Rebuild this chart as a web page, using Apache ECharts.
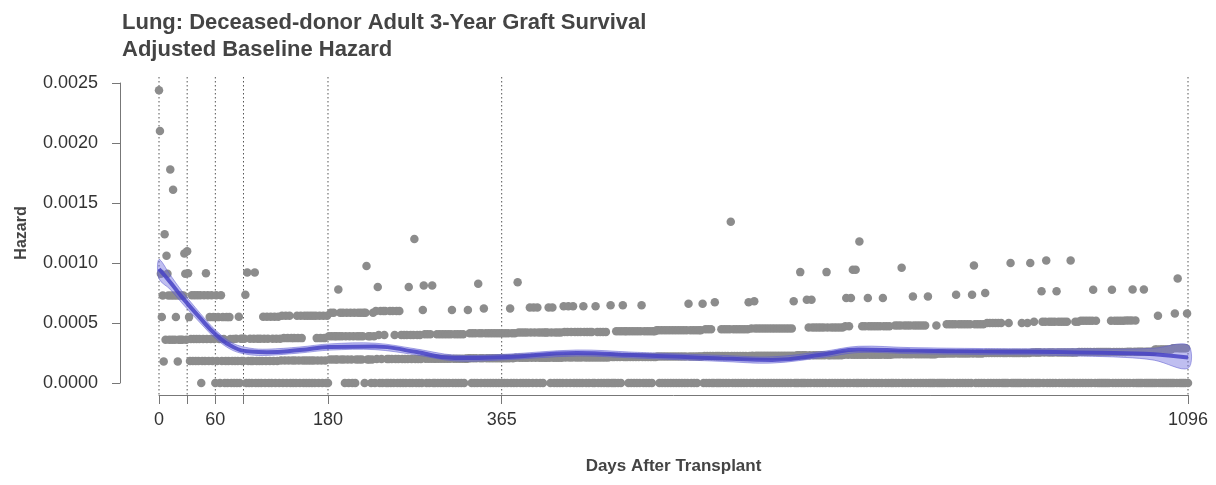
<!DOCTYPE html>
<html>
<head>
<meta charset="utf-8">
<script src="https://cdn.jsdelivr.net/npm/echarts@6.0.0/dist/echarts.min.js"></script>
<style>
  html, body { margin: 0; padding: 0; background: #fff; }
  #main { width: 1216px; height: 485px; }
</style>
</head>
<body>
<div id="main"></div>
<script>
// hazard for the first 30 days, read one by one
const firstMonthHazard = [
  0.00244, 0.00210, 0.00091, 0.00055, 0.00073, 0.00018, 0.00124, 0.00036, 0.00106, 0.00091,
  0.00073, 0.00036, 0.00178, 0.00073, 0.00036, 0.00161, 0.00073, 0.00036, 0.00055, 0.00073,
  0.00018, 0.00036, 0.00073, 0.00036, 0.00073, 0.00036, 0.00073, 0.00108, 0.00091, 0.00036
];

// after day 30 the points sit on rows (0, 1, 2, ... events); row spacing per block of days
const blockStart = [30, 80, 130, 180, 230, 280, 330, 380, 430, 480, 530, 580, 630, 680, 730, 780, 830, 880, 930, 980, 1030, 1060, 1080];
const blockStep = [0.000183, 0.000184, 0.000187, 0.000195, 0.000200, 0.000203, 0.000207, 0.000210, 0.000213, 0.000216, 0.000220, 0.000224,
  0.000227, 0.000231, 0.000236, 0.000240, 0.000245, 0.000250, 0.000255, 0.000259, 0.000260, 0.000280, 0.000290];
// one digit per day = row of that day's point
const blockCounts = [
  '6531241241 2412401241 5241324132 0413204132 0130132012',
  '0120130212 1240510210 1250120120 1320132013 0213021302',
  '1302130213 0210210321 0321031031 0310310321 0321032103',
  '0213213212 1423123102 3102310230 1231231230 3512120132',
  '0314203103 2301013013 0213013021 0210214021 0261021021',
  '0342102102 1401012012 0120120120 1230120120 1201201113',
  '1210210210 4210213021 0210210210 2102102102 1021302102',
  '1042102102 1021032103 2103210210 2121231023 1021021021',
  '0321023102 1302102102 1032102102 1201031201 2012012010',
  '1301010210 2102312121 0210210210 2102310210 2102102121',
  '2120120120 1201201201 2012012012 0120312012 0120121213',
  '0120120120 1031010102 1021021026 1021021021 0210210231',
  '0210321021 0210210210 2102102102 1021021021 0210213010',
  '1014010101 3021032102 1021021021 0421012012 0120120120',
  '1230120314 0140105102 1021032102 1021021021 0321021021',
  '0101201201 2401201201 2013201201 2012012013 0101010120',
  '1010101012 0120120123 0120120120 1201203142 0120120120',
  '3120120120 1201201201 0101021401 0101010102 1010120140',
  '1021010101 3201240120 1201203120 1201201201 0410102102',
  '1021021021 0210231021 0101010101 0101230120 1201201201',
  '2012012301 2010101013 0101010101',
  '0101201010 1010101010',
  '1021031010 1010120'
];

// smoothed hazard with its confidence band
const smoothDays = [0, 12, 24, 44, 61, 79, 97, 115, 150, 182, 230, 273, 315, 365, 445, 505, 555, 600, 653, 709, 745, 800, 878, 928, 980, 1029, 1060, 1096];
const smoothHazard = [0.00095, 0.00084, 0.00072, 0.00054, 0.00040, 0.00030, 0.000262, 0.000256, 0.000275, 0.000300, 0.000305, 0.000260, 0.000208, 0.000215,
  0.000250, 0.000233, 0.000218, 0.000205, 0.000192, 0.000240, 0.000280, 0.000270, 0.000262, 0.000260, 0.000255, 0.000248, 0.000240, 0.000212];
const bandUpper = [0.00103, 0.00090, 0.00077, 0.00058, 0.000435, 0.00033, 0.00029, 0.000282, 0.00030, 0.000326, 0.000332, 0.000285, 0.000232, 0.000238,
  0.000275, 0.000257, 0.000242, 0.00023, 0.000218, 0.000265, 0.000306, 0.000295, 0.000287, 0.000285, 0.000285, 0.000283, 0.00029, 0.000316];
const bandLower = [0.00087, 0.00078, 0.00067, 0.00050, 0.000365, 0.00027, 0.000235, 0.00023, 0.00025, 0.000274, 0.000278, 0.000235, 0.000184, 0.000192,
  0.000225, 0.000209, 0.000194, 0.00018, 0.000166, 0.000215, 0.000254, 0.000245, 0.000237, 0.000235, 0.000225, 0.000213, 0.00019, 0.000122];

const tickDays = [0, 30, 60, 90, 180, 365, 1096];
const labelDays = [0, 60, 180, 365, 1096];

const points = firstMonthHazard.map((h, d) => [d, h]);
blockStart.forEach((start, b) => {
  const counts = blockCounts[b].replace(/ /g, '');
  for (let i = 0; i < counts.length; i++) {
    points.push([start + i, Number(counts[i]) * blockStep[b]]);
  }
});

const font = 'Liberation Sans, Arial, Helvetica, sans-serif';

const option = {
  animation: false,
  title: {
    text: 'Lung: Deceased-donor Adult 3-Year Graft Survival\nAdjusted Baseline Hazard',
    left: 117, top: 4,
    textStyle: { fontFamily: font, fontSize: 22, fontWeight: 'bold', color: '#444', lineHeight: 27 }
  },
  grid: { left: 159, right: 28, top: 83, bottom: 102, containLabel: false },
  xAxis: {
    type: 'value', min: 0, max: 1096, offset: 12,
    name: 'Days After Transplant', nameLocation: 'middle', nameGap: 63,
    nameTextStyle: { fontFamily: font, fontSize: 17, fontWeight: 'bold', color: '#444' },
    axisLine: { show: true, onZero: false, lineStyle: { color: '#777', width: 1 } },
    axisTick: { show: true, length: 9, customValues: tickDays, lineStyle: { color: '#777' } },
    axisLabel: { customValues: labelDays, margin: 16, fontFamily: font, fontSize: 18, color: '#333', formatter: v => String(v) },
    splitLine: { show: false }
  },
  yAxis: {
    type: 'value', min: 0, max: 0.0025, interval: 0.0005, offset: 39,
    name: 'Hazard', nameLocation: 'middle', nameGap: 90, nameRotate: 90,
    nameTextStyle: { fontFamily: font, fontSize: 16, fontWeight: 'bold', color: '#444' },
    axisLine: { show: true, onZero: false, lineStyle: { color: '#777', width: 1 } },
    axisTick: { show: true, length: 8, lineStyle: { color: '#777' } },
    axisLabel: { margin: 22, fontFamily: font, fontSize: 18, color: '#333', formatter: v => v.toFixed(4) },
    splitLine: { show: false }
  },
  series: [
    {
      // dotted vertical guides at the tick days
      type: 'custom',
      data: tickDays.map(d => [d, 0]),
      clip: false,
      silent: true,
      z: 1,
      renderItem: (params, api) => {
        const top = api.coord([api.value(0), 0.00255]);
        const bottom = api.coord([api.value(0), -0.0001]);
        return {
          type: 'line',
          shape: { x1: top[0], y1: top[1], x2: bottom[0], y2: bottom[1] },
          style: { stroke: '#555', lineWidth: 1, lineDash: [1.5, 2.5] }
        };
      }
    },
    {
      type: 'scatter',
      data: points,
      symbolSize: 8.5,
      clip: false,
      z: 2,
      itemStyle: { color: '#8c8c8c', opacity: 1 }
    },
    {
      type: 'custom',
      data: [[0, 0]],
      clip: false,
      z: 3,
      renderItem: (params, api) => {
        const pts = smoothDays.map((d, i) => api.coord([d, bandUpper[i]]));
        for (let i = smoothDays.length - 1; i >= 0; i--) {
          pts.push(api.coord([smoothDays[i], bandLower[i]]));
        }
        return {
          type: 'polygon',
          shape: { points: pts, smooth: 0.35 },
          style: { fill: 'rgba(112,110,222,0.45)', stroke: 'rgba(90,88,205,0.5)', lineWidth: 1 }
        };
      }
    },
    {
      type: 'line',
      data: smoothDays.map((d, i) => [d, smoothHazard[i]]),
      smooth: 0.5,
      showSymbol: false,
      z: 4,
      lineStyle: { color: '#4843c6', width: 4, opacity: 0.85 }
    }
  ]
};

const chart = echarts.init(document.getElementById('main'));
chart.setOption(option);
</script>
</body>
</html>
